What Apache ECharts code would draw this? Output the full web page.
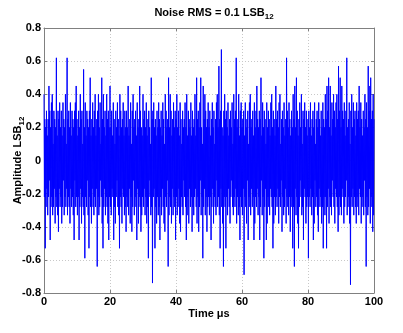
<!DOCTYPE html>
<html>
<head>
<meta charset="utf-8">
<script src="https://cdn.jsdelivr.net/npm/echarts@6/dist/echarts.min.js"></script>
<style>
  html, body { margin: 0; padding: 0; background: #fff; }
  #chart { width: 403px; height: 333px; }
</style>
</head>
<body>
<div id="chart"></div>
<script>
// sampling step of the noise record, in microseconds
const sampleStep = 0.125;

// noise amplitude in LSB12, one value per sample (40 samples = 5 us per row)
const amplitude = [
  0.4,-0.22,0.25,-0.53,0.2,-0.28,0.3,-0.17,0.15,-0.33,0.25,-0.22,0.45,-0.12,0.3,-0.48,0.2,-0.28,0.35,-0.22,0.4,-0.33,0.1,-0.28,0.3,-0.17,0.25,-0.38,0.2,-0.22,0.62,-0.28,0.15,-0.33,0.3,-0.43,0.25,-0.17,0.35,-0.28,
  0.2,-0.22,0.3,-0.38,0.15,-0.28,0.35,-0.12,0.25,-0.33,0.2,-0.22,0.4,-0.28,0.1,-0.17,0.62,-0.33,0.25,-0.22,0.3,-0.28,0.2,-0.38,0.35,-0.17,0.15,-0.28,0.3,-0.22,0.25,-0.33,0.2,-0.48,0.3,-0.12,0.35,-0.28,0.45,-0.22,
  0.25,-0.33,0.15,-0.22,0.3,-0.48,0.2,-0.28,0.4,-0.17,0.25,-0.38,0.3,-0.22,0.1,-0.28,0.55,-0.33,0.2,-0.59,0.35,-0.22,0.15,-0.28,0.3,-0.12,0.25,-0.33,0.2,-0.53,0.3,-0.22,0.5,-0.28,0.15,-0.38,0.25,-0.17,0.35,-0.28,
  0.2,-0.33,0.3,-0.22,0.4,-0.28,0.15,-0.17,0.25,-0.64,0.3,-0.22,0.4,-0.33,0.2,-0.28,0.35,-0.12,0.1,-0.22,0.5,-0.38,0.25,-0.53,0.4,-0.28,0.2,-0.17,0.3,-0.33,0.15,-0.22,0.4,-0.28,0.25,-0.38,0.3,-0.48,0.2,-0.22,
  0.45,-0.28,0.2,-0.33,0.3,-0.17,0.15,-0.22,0.35,-0.48,0.25,-0.28,0.1,-0.38,0.3,-0.22,0.2,-0.12,0.35,-0.28,0.25,-0.33,0.15,-0.53,0.4,-0.22,0.3,-0.28,0.2,-0.38,0.25,-0.17,0.35,-0.22,0.15,-0.33,0.3,-0.28,0.2,-0.43,
  0.3,-0.22,0.2,-0.28,0.45,-0.33,0.15,-0.17,0.25,-0.38,0.35,-0.22,0.1,-0.43,0.3,-0.28,0.4,-0.12,0.2,-0.33,0.25,-0.22,0.3,-0.28,0.15,-0.48,0.35,-0.17,0.2,-0.38,0.25,-0.22,0.45,-0.28,0.3,-0.43,0.2,-0.33,0.15,-0.22,
  0.4,-0.28,0.25,-0.17,0.3,-0.33,0.2,-0.22,0.35,-0.38,0.15,-0.28,0.25,-0.59,0.3,-0.12,0.2,-0.22,0.1,-0.33,0.5,-0.28,0.25,-0.74,0.3,-0.22,0.35,-0.17,0.2,-0.53,0.25,-0.28,0.15,-0.38,0.3,-0.22,0.2,-0.33,0.35,-0.28,
  0.25,-0.48,0.2,-0.22,0.3,-0.33,0.15,-0.17,0.35,-0.28,0.25,-0.38,0.1,-0.43,0.4,-0.22,0.3,-0.28,0.2,-0.12,0.25,-0.64,0.5,-0.33,0.2,-0.22,0.4,-0.28,0.3,-0.38,0.15,-0.17,0.25,-0.33,0.35,-0.22,0.2,-0.28,0.3,-0.48,
  0.25,-0.22,0.4,-0.33,0.2,-0.28,0.3,-0.17,0.15,-0.38,0.35,-0.43,0.25,-0.22,0.1,-0.28,0.3,-0.33,0.2,-0.12,0.25,-0.22,0.35,-0.28,0.2,-0.48,0.4,-0.33,0.15,-0.22,0.3,-0.38,0.25,-0.17,0.2,-0.28,0.35,-0.22,0.15,-0.43,
  0.3,-0.28,0.2,-0.33,0.25,-0.22,0.4,-0.17,0.15,-0.28,0.5,-0.38,0.25,-0.22,0.3,-0.43,0.2,-0.28,0.35,-0.12,0.5,-0.33,0.2,-0.22,0.1,-0.59,0.45,-0.28,0.25,-0.17,0.4,-0.33,0.3,-0.22,0.2,-0.43,0.25,-0.28,0.35,-0.22,
  0.2,-0.33,0.3,-0.22,0.15,-0.48,0.25,-0.28,0.35,-0.17,0.2,-0.38,0.3,-0.22,0.1,-0.28,0.25,-0.33,0.35,-0.12,0.4,-0.28,0.2,-0.22,0.57,-0.33,0.25,-0.53,0.3,-0.17,0.67,-0.28,0.2,-0.38,0.15,-0.64,0.3,-0.22,0.4,-0.28,
  0.25,-0.53,0.3,-0.22,0.2,-0.33,0.35,-0.17,0.15,-0.28,0.25,-0.38,0.3,-0.22,0.2,-0.12,0.35,-0.28,0.1,-0.33,0.4,-0.22,0.25,-0.28,0.3,-0.17,0.62,-0.38,0.2,-0.22,0.25,-0.33,0.4,-0.28,0.15,-0.48,0.3,-0.22,0.35,-0.28,
  0.2,-0.33,0.25,-0.17,0.3,-0.69,0.15,-0.22,0.35,-0.28,0.2,-0.38,0.25,-0.12,0.3,-0.48,0.1,-0.22,0.35,-0.28,0.4,-0.33,0.2,-0.17,0.25,-0.28,0.3,-0.22,0.15,-0.48,0.35,-0.38,0.2,-0.22,0.3,-0.28,0.45,-0.17,0.25,-0.33,
  0.2,-0.22,0.3,-0.48,0.25,-0.28,0.5,-0.12,0.15,-0.33,0.35,-0.22,0.2,-0.59,0.3,-0.28,0.25,-0.17,0.1,-0.48,0.35,-0.38,0.2,-0.22,0.3,-0.28,0.25,-0.33,0.15,-0.17,0.35,-0.22,0.4,-0.28,0.2,-0.53,0.3,-0.38,0.25,-0.22,
  0.15,-0.33,0.45,-0.22,0.25,-0.28,0.3,-0.17,0.2,-0.38,0.35,-0.22,0.4,-0.28,0.1,-0.12,0.25,-0.43,0.3,-0.22,0.2,-0.33,0.35,-0.28,0.15,-0.17,0.25,-0.38,0.62,-0.22,0.3,-0.28,0.2,-0.33,0.35,-0.22,0.25,-0.43,0.15,-0.28,
  0.3,-0.22,0.2,-0.53,0.4,-0.28,0.25,-0.64,0.45,-0.17,0.2,-0.33,0.5,-0.22,0.3,-0.38,0.15,-0.53,0.25,-0.28,0.35,-0.12,0.2,-0.22,0.4,-0.33,0.1,-0.28,0.3,-0.48,0.25,-0.17,0.35,-0.22,0.2,-0.38,0.3,-0.28,0.15,-0.22,
  0.25,-0.59,0.3,-0.22,0.2,-0.28,0.35,-0.17,0.15,-0.33,0.25,-0.22,0.3,-0.48,0.2,-0.38,0.35,-0.12,0.1,-0.28,0.25,-0.22,0.3,-0.33,0.2,-0.43,0.35,-0.17,0.25,-0.28,0.15,-0.22,0.3,-0.38,0.2,-0.28,0.35,-0.53,0.25,-0.22,
  0.2,-0.33,0.4,-0.22,0.25,-0.53,0.45,-0.28,0.3,-0.17,0.5,-0.38,0.2,-0.22,0.45,-0.28,0.15,-0.33,0.35,-0.12,0.25,-0.22,0.4,-0.28,0.3,-0.38,0.2,-0.17,0.35,-0.22,0.4,-0.28,0.25,-0.43,0.57,-0.33,0.3,-0.22,0.5,-0.28,
  0.2,-0.33,0.45,-0.17,0.3,-0.22,0.25,-0.38,0.35,-0.28,0.15,-0.22,0.3,-0.12,0.62,-0.33,0.2,-0.28,0.25,-0.22,0.35,-0.38,0.1,-0.75,0.3,-0.22,0.4,-0.28,0.2,-0.17,0.35,-0.33,0.25,-0.22,0.3,-0.28,0.15,-0.38,0.35,-0.22,
  0.25,-0.28,0.3,-0.33,0.45,-0.17,0.2,-0.22,0.35,-0.38,0.25,-0.28,0.15,-0.22,0.3,-0.33,0.2,-0.12,0.4,-0.28,0.25,-0.64,0.35,-0.22,0.2,-0.33,0.57,-0.28,0.3,-0.17,0.45,-0.38,0.5,-0.22,0.25,-0.28,0.3,-0.43,0.4,-0.33,
  0.25
];

const xTicks = { min: 0, max: 100, interval: 20 };
const yTicks = { min: -0.8, max: 0.8, interval: 0.2 };

const font = "'Liberation Sans', Arial, Helvetica, sans-serif";
const boxColor = "#808080";

const points = amplitude.map((v, i) => [i * sampleStep, v]);

const chart = echarts.init(document.getElementById("chart"));

const axisCommon = {
  axisLine: { show: true, onZero: false, lineStyle: { color: boxColor, width: 1 } },
  axisTick: { show: true, inside: true, length: 3, lineStyle: { color: boxColor } },
};

chart.setOption({
  animation: false,
  backgroundColor: "#fff",
  title: {
    text: "{a|Noise RMS = 0.1 LSB}{s|12}",
    left: 209,
    textAlign: "center",
    top: 0,
    textStyle: {
      rich: {
        a: { fontFamily: font, fontSize: 11, fontWeight: "bold", color: "#000" },
        s: { fontFamily: font, fontSize: 8, fontWeight: "bold", color: "#000", padding: [8, 0, 0, 0] },
      },
    },
  },
  grid: {
    left: 44,
    top: 28,
    width: 330,
    height: 265,
    containLabel: false,
    outerBoundsMode: "none",
    show: false,
  },
  xAxis: [
    {
      type: "value",
      ...xTicks,
      ...axisCommon,
      name: "Time μs",
      nameLocation: "middle",
      nameGap: 15,
      nameMoveOverlap: false,
      nameTextStyle: { fontFamily: font, fontSize: 11, fontWeight: "bold", color: "#000" },
      axisLabel: { fontFamily: font, fontSize: 11, fontWeight: "bold", color: "#000", margin: 3 },
      splitLine: { show: true, lineStyle: { color: "#c8c8c8", type: [1, 2], width: 1 } },
    },
    {
      type: "value",
      position: "top",
      ...xTicks,
      ...axisCommon,
      axisLabel: { show: false },
      splitLine: { show: false },
    },
  ],
  yAxis: [
    {
      type: "value",
      ...yTicks,
      ...axisCommon,
      name: "{a|Amplitude LSB}{s|12}",
      nameLocation: "middle",
      nameRotate: 90,
      nameGap: 18,
      nameMoveOverlap: false,
      nameTextStyle: {
        rich: {
          a: { fontFamily: font, fontSize: 11, fontWeight: "bold", color: "#000" },
          s: { fontFamily: font, fontSize: 8, fontWeight: "bold", color: "#000", padding: [8, 0, 0, 0] },
        },
      },
      axisLabel: {
        fontFamily: font,
        fontSize: 11,
        fontWeight: "bold",
        color: "#000",
        margin: 3,
        formatter: (v) => (Math.abs(v) < 1e-9 ? "0" : v.toFixed(1)),
      },
      splitLine: { show: true, lineStyle: { color: "#c8c8c8", type: [1, 2], width: 1 } },
    },
    {
      type: "value",
      position: "right",
      ...yTicks,
      ...axisCommon,
      axisLabel: { show: false },
      splitLine: { show: false },
    },
  ],
  series: [
    {
      type: "line",
      data: points,
      showSymbol: false,
      symbol: "none",
      sampling: null,
      lineStyle: { color: "#0000ff", width: 1 },
      z: 3,
    },
  ],
});
</script>
</body>
</html>
